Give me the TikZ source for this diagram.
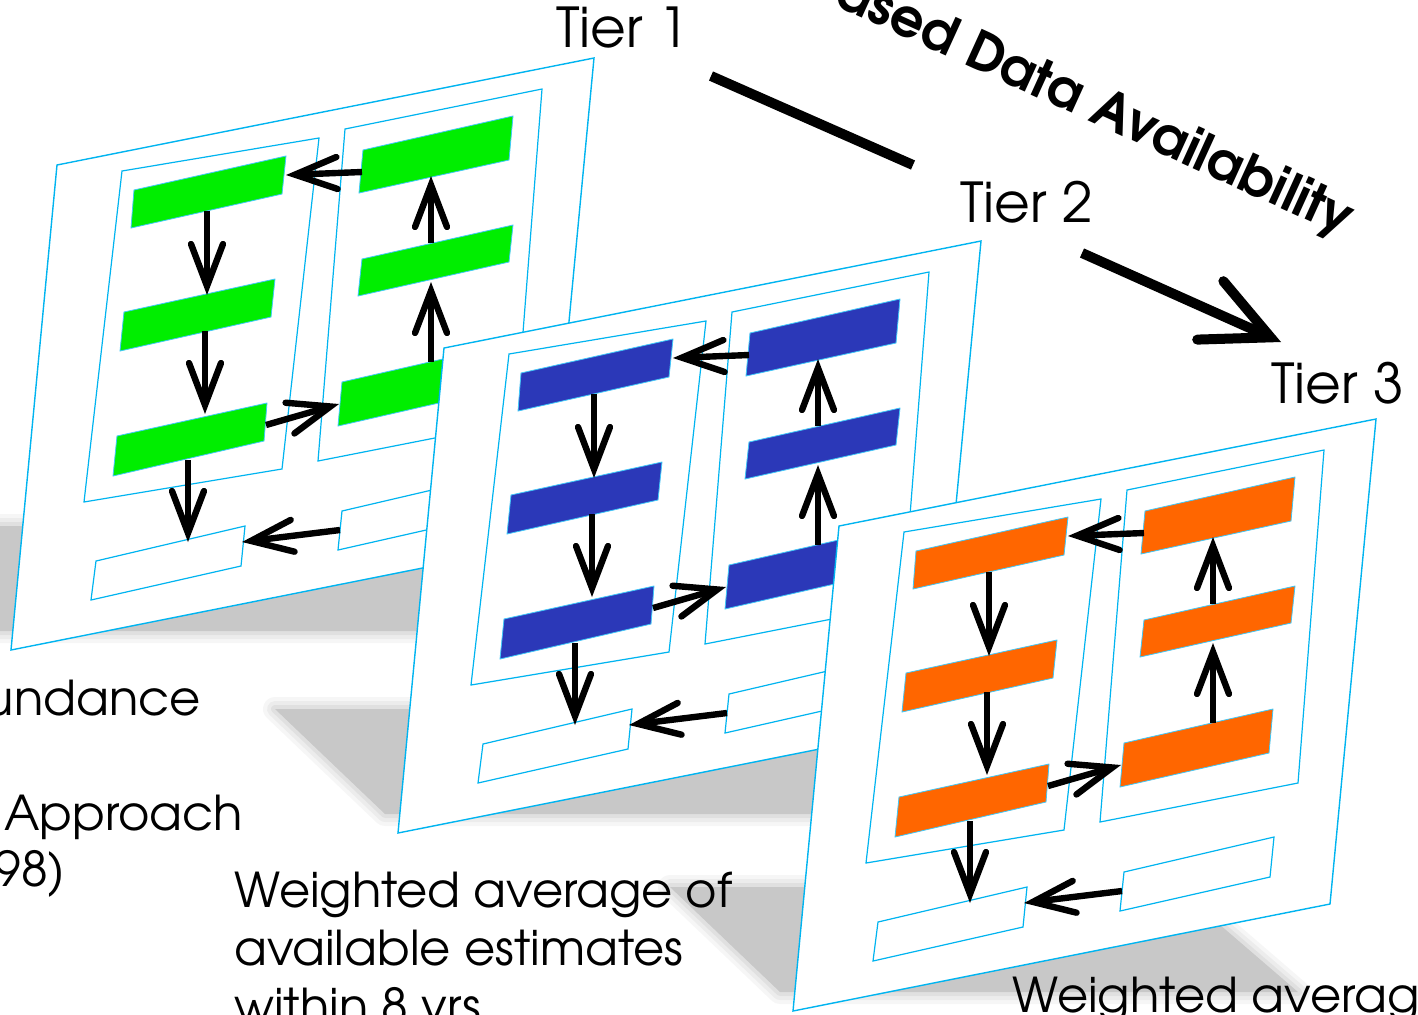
\documentclass[tikz,border=0pt]{standalone}
\usepackage{fontspec}
\setmainfont{TeX Gyre Adventor}
\usetikzlibrary{arrows.meta}

\definecolor{edgecyan}{HTML}{00B4F0}
\definecolor{barline}{HTML}{40C8F8}
\definecolor{tgreen}{HTML}{00EE00}
\definecolor{tblue}{HTML}{2B38B8}
\definecolor{torange}{HTML}{FF6600}
\definecolor{floorgrey}{HTML}{C8C8C8}

\tikzset{
  panel/.style={draw=edgecyan, fill=white, line width=0.7pt, line join=miter},
  frame/.style={draw=edgecyan, line width=0.6pt},
  bar/.style={draw=barline, line width=0.4pt},
  slot/.style={draw=edgecyan, fill=white, line width=0.6pt},
  flow/.style={line width=3.2pt,
    -{Straight Barb[length=21pt,width=16pt,line cap=round,line join=miter]}},
  trend/.style={line width=5pt},
  trendhead/.style={line width=5pt,
    -{Straight Barb[length=33pt,width=32pt,line cap=round,line join=miter]}},
  label/.style={inner sep=0pt, font=\fontsize{27.5}{32}\selectfont},
  note/.style={inner sep=0pt, font=\fontsize{24}{29}\selectfont},
  banner/.style={inner sep=0pt, font=\fontsize{26.6}{32}\selectfont\bfseries},
}

% a four-cornered shape with named corners
\newcommand\quadbox[6]{%
  \coordinate (#1-a) at #3; \coordinate (#1-b) at #4;
  \coordinate (#1-c) at #5; \coordinate (#1-d) at #6;
  \draw[#2] (#1-a) -- (#1-b) -- (#1-c) -- (#1-d) -- cycle;}

% a connector between two named points
\newcommand\flowlink[3]{%
  \coordinate (#1-s) at #2; \coordinate (#1-e) at #3;
  \draw[flow] (#1-s) -- (#1-e);}

% soft drop shadow on the floor behind a sheet
\newcommand\floorshadow[1]{%
  \coordinate (#1sh-a) at (-112,526); \coordinate (#1sh-b) at (394,526);
  \coordinate (#1sh-c) at (516,631);  \coordinate (#1sh-d) at (-2,631);
  \foreach \w/\o in {12pt/0.16,8pt/0.22,4pt/0.32}{
    \draw[floorgrey, line width=\w, opacity=\o, line join=round]
      (#1sh-a) -- (#1sh-b) -- (#1sh-c) -- (#1sh-d) -- cycle;}
  \fill[floorgrey] (#1sh-a) -- (#1sh-b) -- (#1sh-c) -- (#1sh-d) -- cycle;}

% one tier sheet: #1 prefix, #2 bar colour, #3 offset
\newcommand\tiersheet[3]{%
\begin{scope}[shift={#3}]
  \floorshadow{#1}
  \quadbox{#1out}{panel}{(57,165)}{(594,58)}{(548,543)}{(11,650)}
  \quadbox{#1colL}{frame}{(122,171)}{(319,138)}{(282,469)}{(84,502)}
  \quadbox{#1colR}{frame}{(345,129)}{(542,89)}{(516,422)}{(318,461)}
  \quadbox{#1L1}{bar,fill=#2}{(134,190)}{(286,156)}{(282,194)}{(131,228)}
  \quadbox{#1L2}{bar,fill=#2}{(124,312)}{(275,279)}{(271,317)}{(120,351)}
  \quadbox{#1L3}{bar,fill=#2}{(117,436)}{(267,403)}{(264,441)}{(113,476)}
  \quadbox{#1R1}{bar,fill=#2}{(363,150)}{(513,116)}{(509,160)}{(359,193)}
  \quadbox{#1R2}{bar,fill=#2}{(362,259)}{(513,225)}{(509,262)}{(358,296)}
  \quadbox{#1R3}{bar,fill=#2}{(342,382)}{(491,348)}{(487,392)}{(338,426)}
  \quadbox{#1S1}{slot}{(96,561)}{(245,526)}{(241,566)}{(91,600)}
  \quadbox{#1S2}{slot}{(342,511)}{(492,476)}{(488,516)}{(338,550)}
  \flowlink{#1f1}{(207,211)}{(207,295)}
  \flowlink{#1f2}{(205,331)}{(205,414)}
  \flowlink{#1f3}{(188,460)}{(188,542)}
  \flowlink{#1f4}{(431,362)}{(431,282)}
  \flowlink{#1f5}{(431,243)}{(431,176)}
  \flowlink{#1f6}{(362,172)}{(286,175)}
  \flowlink{#1f7}{(266,425)}{(339,404)}
  \flowlink{#1f8}{(340,530)}{(242,542)}
\end{scope}}

\begin{document}
\begin{tikzpicture}[x=0.5pt, y=-0.5pt]
  \useasboundingbox (0,0) rectangle (1418,1014);
  \clip (0,0) rectangle (1418,1014);

  \tiersheet{p1}{tgreen}{(0,0)}
  \tiersheet{p2}{tblue}{(387,183)}
  \tiersheet{p3}{torange}{(782,361)}

  % tier labels and the trend arrow between them
  \node[label, anchor=base west] (tier1) at (556,47) {Tier 1};
  \node[label, anchor=base west] (tier2) at (960,222) {Tier 2};
  \node[label, anchor=base west] (tier3) at (1271,403) {Tier 3};
  \coordinate (trendA) at (711,76);
  \coordinate (trendB) at (913,165);
  \coordinate (trendC) at (1082,253);
  \coordinate (trendD) at (1281,342);
  \draw[trend] (trendA) -- (trendB);
  \draw[trendhead] (trendC) -- (trendD);
  \node[banner, anchor=base west, rotate=-24.5] (trendtext) at (832,4)
    {ased Data Availability};

  % method notes
  \node[note, anchor=base east] (noteA) at (201,715) {undance};
  \node[note, anchor=base west] (noteB) at (4,830) {Approach};
  \node[note, anchor=base east] (noteC) at (66,886) {98)};
  \node[note, anchor=base west] (noteD1) at (234,907) {Weighted average of};
  \node[note, anchor=base west] (noteD2) at (234,965) {available estimates};
  \node[note, anchor=base west] (noteD3) at (234,1023) {within 8 yrs};
  \node[note, anchor=base west] (noteE) at (1012,1012) {Weighted averag};
\end{tikzpicture}
\end{document}
